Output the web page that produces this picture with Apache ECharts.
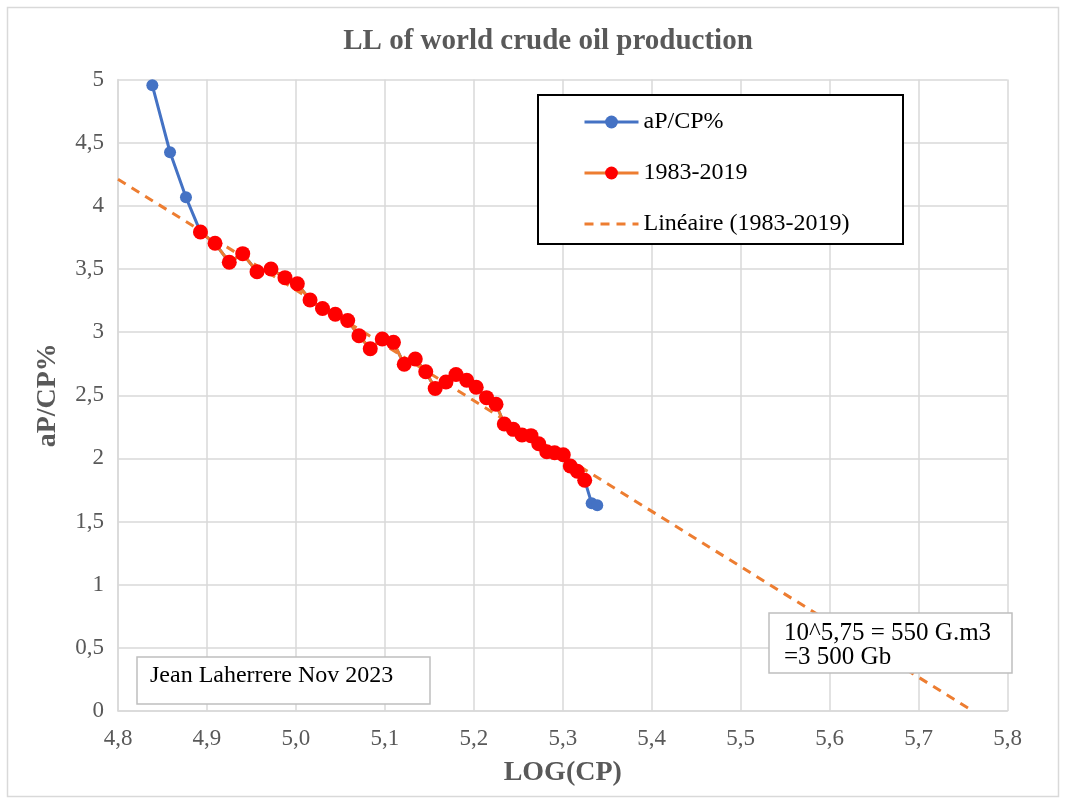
<!DOCTYPE html>
<html>
<head>
<meta charset="utf-8">
<script src="https://cdn.jsdelivr.net/npm/echarts@6/dist/echarts.min.js"></script>
<style>html,body{margin:0;padding:0;background:#fff}#c{width:1066px;height:803px}</style>
</head>
<body>
<div id="c"></div>
<script>
// ---- data ----
const blueStartX = [4.8386, 4.8585, 4.8764];
const blueStartY = [4.954, 4.424, 4.067];
const redX = [4.8927, 4.9091, 4.9251, 4.9402, 4.9563, 4.9720, 4.9877, 5.0016, 5.0159, 5.0299,
              5.0443, 5.0582, 5.0709, 5.0836, 5.0971, 5.1097, 5.1218, 5.1342, 5.1460, 5.1566,
              5.1687, 5.1800, 5.1920, 5.2027, 5.2143, 5.2250, 5.2343, 5.2444, 5.2542, 5.2643,
              5.2730, 5.2820, 5.2909, 5.3006, 5.3085, 5.3164, 5.3247];
const redY = [3.793, 3.703, 3.553, 3.621, 3.478, 3.500, 3.431, 3.383, 3.254, 3.187,
              3.141, 3.092, 2.971, 2.868, 2.945, 2.919, 2.745, 2.787, 2.686, 2.553,
              2.605, 2.664, 2.619, 2.563, 2.481, 2.429, 2.272, 2.230, 2.185, 2.180,
              2.116, 2.053, 2.045, 2.029, 1.940, 1.898, 1.827];
const blueEndX = [5.3325, 5.3388];
const blueEndY = [1.644, 1.629];
const trendX = [4.8, 5.761];
const trendY = [4.21, 0];
const seriesNames = ['aP/CP%', '1983-2019', 'Linéaire (1983-2019)'];
const titleText = 'LL of world crude oil production';
const xName = 'LOG(CP)';
const yName = 'aP/CP%';
const noteAuthor = 'Jean Laherrere Nov 2023';
const noteResult = ['10^5,75 = 550 G.m3', '=3 500 Gb'];

const zip = (xs, ys) => xs.map((x, i) => [x, ys[i]]);
const blueData = zip(blueStartX.concat(redX, blueEndX), blueStartY.concat(redY, blueEndY));
const redData = zip(redX, redY);
const trendData = zip(trendX, trendY);

const FONT = '"Liberation Serif", "Times New Roman", serif';
const GRAY = '#595959';
const GRID = '#d9d9d9';

const chart = echarts.init(document.getElementById('c'), null, {renderer: 'canvas'});
chart.setOption({
  animation: false,
  backgroundColor: '#fff',
  title: {
    text: titleText, left: 543, top: 22, textAlign: 'center',
    textStyle: {fontFamily: FONT, fontSize: 29, fontWeight: 'bold', color: GRAY}
  },
  grid: {left: 118, right: 58.5, top: 79.5, bottom: 92, containLabel: false},
  xAxis: {
    type: 'value', min: 4.8, max: 5.8, interval: 0.1,
    name: xName, nameLocation: 'middle', nameGap: 48,
    nameTextStyle: {fontFamily: FONT, fontSize: 28, fontWeight: 'bold', color: GRAY},
    axisLine: {show: true, lineStyle: {color: GRID, width: 1.5}},
    axisTick: {show: false},
    splitLine: {show: true, lineStyle: {color: GRID, width: 1.5}},
    axisLabel: {
      fontFamily: FONT, fontSize: 23, color: GRAY, margin: 16,
      formatter: v => v.toFixed(1).replace('.', ',')
    }
  },
  yAxis: {
    type: 'value', min: 0, max: 5, interval: 0.5,
    name: yName, nameLocation: 'middle', nameGap: 56, nameRotate: 90,
    nameTextStyle: {fontFamily: FONT, fontSize: 28, fontWeight: 'bold', color: GRAY},
    axisLine: {show: true, lineStyle: {color: GRID, width: 1.5}},
    axisTick: {show: false},
    splitLine: {show: true, lineStyle: {color: GRID, width: 1.5}},
    axisLabel: {
      fontFamily: FONT, fontSize: 23, color: GRAY, margin: 14,
      formatter: v => String(Math.round(v * 10) / 10).replace('.', ',')
    }
  },
  legend: {
    data: [
      {name: seriesNames[0]},
      {name: seriesNames[1]},
      {name: seriesNames[2], itemStyle: {opacity: 0}}
    ],
    orient: 'vertical', left: 583, top: 110,
    itemWidth: 54, itemHeight: 16, itemGap: 27, padding: 0,
    selectedMode: false, z: 6,
    lineStyle: {width: 3},
    textStyle: {fontFamily: FONT, fontSize: 24, color: '#000', lineHeight: 22}
  },
  series: [
    {
      name: seriesNames[0], type: 'line', data: blueData, z: 2,
      symbol: 'circle', symbolSize: 12,
      lineStyle: {color: '#4472C4', width: 3},
      itemStyle: {color: '#4472C4'}
    },
    {
      name: seriesNames[2], type: 'line', data: trendData, z: 3,
      symbol: 'none', showSymbol: false,
      lineStyle: {color: '#ED7D31', width: 3, type: [9, 7]},
      itemStyle: {color: '#ED7D31'}
    },
    {
      name: seriesNames[1], type: 'line', data: redData, z: 4,
      symbol: 'circle', symbolSize: 15,
      lineStyle: {color: '#ED7D31', width: 3},
      itemStyle: {color: '#FF0000'}
    }
  ],
  graphic: [
    {type: 'rect', silent: true, z: -10,
     shape: {x: 7.5, y: 7.5, width: 1051, height: 789},
     style: {fill: 'none', stroke: GRID, lineWidth: 1.5}},
    {type: 'rect', silent: true, z: 5,
     shape: {x: 538, y: 95, width: 365, height: 149},
     style: {fill: '#fff', stroke: '#000', lineWidth: 2}},
    {type: 'rect', silent: true, z: 5,
     shape: {x: 137, y: 657, width: 293, height: 47},
     style: {fill: '#fff', stroke: '#bfbfbf', lineWidth: 1.5}},
    {type: 'text', silent: true, z: 6, x: 150, y: 676,
     style: {text: noteAuthor, fontFamily: FONT, fontSize: 24, fill: '#000',
             verticalAlign: 'middle', align: 'left'}},
    {type: 'rect', silent: true, z: 5,
     shape: {x: 769, y: 613, width: 243, height: 60},
     style: {fill: '#fff', stroke: '#bfbfbf', lineWidth: 1.5}},
    {type: 'text', silent: true, z: 6, x: 784, y: 645,
     style: {text: noteResult.join('\n'), fontFamily: FONT, fontSize: 25, lineHeight: 24,
             fill: '#000', verticalAlign: 'middle', align: 'left'}}
  ]
});
</script>
</body>
</html>
